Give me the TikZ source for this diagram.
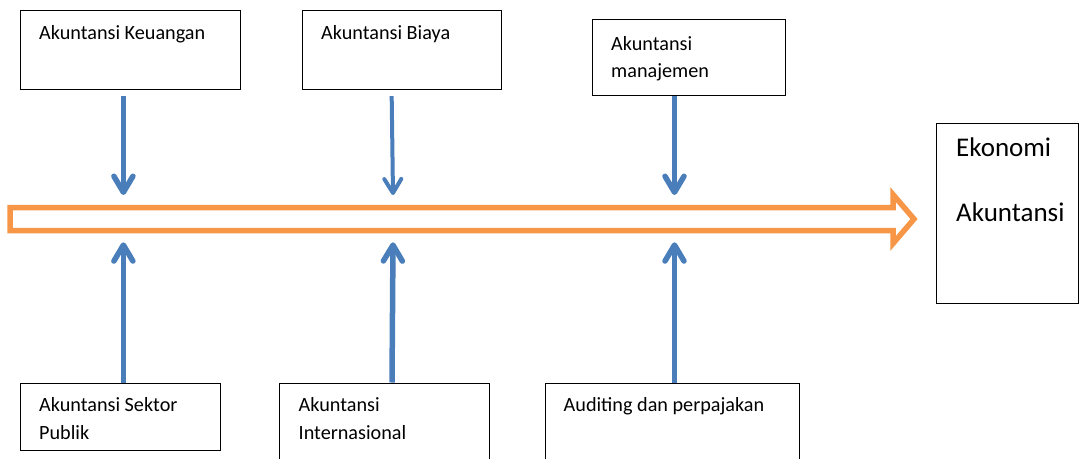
\documentclass[tikz,border=0pt]{standalone}
\usepackage{fontspec}
\setmainfont{Carlito}
\usetikzlibrary{arrows.meta}
\definecolor{birupanah}{HTML}{4A7EBB}
\definecolor{jingga}{HTML}{F79646}
\tikzset{
    kotak/.style={draw=black, line width=1.2pt, anchor=north west, inner sep=0pt},
    teks/.style={font=\fontsize{20.2}{27.5}\selectfont, anchor=base west, inner sep=0pt, align=left},
    panah/.style={draw=birupanah, line width=5.5pt, -{Straight Barb[length=16pt,width=19pt,round]}},
    panahtipis/.style={panah, line width=4pt, -{Straight Barb[length=14pt,width=17pt,round]}},
}
\begin{document}
\begin{tikzpicture}[x=1pt, y=-1pt]
    \useasboundingbox (0,0) rectangle (1081,458);

    % Kotak atas
    \node[kotak, minimum width=220pt, minimum height=79pt] (keu) at (20,10) {};
    \node[kotak, minimum width=199pt, minimum height=79pt] (biaya) at (302,10) {};
    \node[kotak, minimum width=193pt, minimum height=76pt] (manaj) at (592,19) {};
    \node[teks] (tkeu) at (39,39) {Akuntansi Keuangan};
    \node[teks] (tbiaya) at (321,39) {Akuntansi Biaya};
    \node[teks] (tmanaj) at (611,77.5) {Akuntansi\\manajemen};

    % Kotak bawah
    \node[kotak, minimum width=200pt, minimum height=67.5pt] (sektor) at (20,382.5) {};
    \node[kotak, minimum width=210pt, minimum height=90pt] (intl) at (279,382.5) {};
    \node[kotak, minimum width=254pt, minimum height=90pt] (audit) at (544.5,382.5) {};
    \node[teks] (tsektor) at (39,439) {Akuntansi Sektor\\Publik};
    \node[teks] (tintl) at (298.5,439) {Akuntansi\\Internasional};
    \node[teks] (taudit) at (563.5,411.5) {Auditing dan perpajakan};

    % Tujuan
    \node[kotak, minimum width=142pt, minimum height=180pt] (ekon) at (936,122.5) {};
    \node[teks, font=\fontsize{27}{32.5}\selectfont] (tekon) at (956,221.7) {Ekonomi\\[32.5pt]Akuntansi};

    % Panah utama
    \draw[jingga, line width=5.5pt, line join=miter]
        (10,207.5) -- (893,207.5) -- (893,194.5) -- (914,219)
        -- (893,243.5) -- (893,230.5) -- (10,230.5) -- cycle;

    % Titik temu di panah utama
    \coordinate (turun1) at (123.4,195);
    \coordinate (turun2) at (393,195);
    \coordinate (turun3) at (674.5,195);
    \coordinate (naik1) at (123.4,242.3);
    \coordinate (naik2) at (393,242.3);
    \coordinate (naik3) at (674.5,242.3);

    % Panah biru
    \draw[panah, shorten <=6pt] (keu.south -| turun1) -- (turun1);
    \draw[panahtipis, shorten <=6pt] ([xshift=-10.5pt]biaya.south) -- (turun2);
    \draw[panah] (manaj.south -| turun3) -- (turun3);
    \draw[panah] (sektor.north -| naik1) -- (naik1);
    \draw[panah] ([xshift=7.4pt]intl.north) -- (naik2);
    \draw[panah] (audit.north -| naik3) -- (naik3);
\end{tikzpicture}
\end{document}
